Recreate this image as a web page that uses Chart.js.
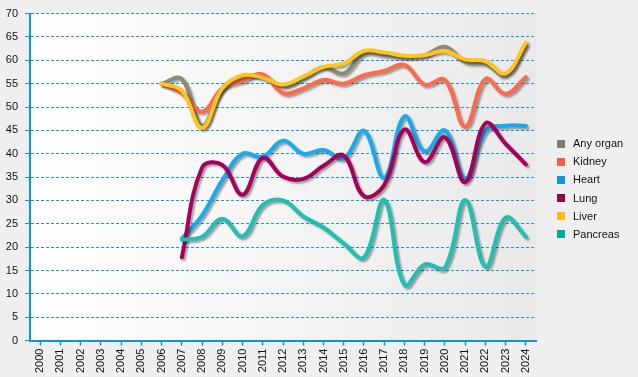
<!DOCTYPE html>
<html>
<head>
<meta charset="utf-8">
<script src="https://cdn.jsdelivr.net/npm/chart.js@4"></script>
<style>
  html, body { margin: 0; padding: 0; background: #efefef; }
  #wrap { width: 638px; height: 377px; position: relative; }
  #legend { position: absolute; left: 557px; top: 134px; margin: 0; padding: 0; list-style: none;
    font: 11px Arial, "Liberation Sans", sans-serif; color: #111; }
  #legend li { height: 18.2px; line-height: 18.2px; white-space: nowrap; position: relative; padding-left: 16px; }
  #legend li span { position: absolute; left: 0; top: 5.5px; width: 8px; height: 8px; }
</style>
</head>
<body>
<div id="wrap">
  <canvas id="chart" width="638" height="377"></canvas>
  <ul id="legend"></ul>
</div>
<script>
// Data (values per year, null = no data)
const years = ['2000','2001','2002','2003','2004','2005','2006','2007','2008','2009','2010','2011',
  '2012','2013','2014','2015','2016','2017','2018','2019','2020','2021','2022','2023','2024'];

const anyOrgan = [null,null,null,null,null,null, 55, 56, 46, 54, 56.5, 56.5,
  54.5, 56.3, 58.5, 57.2, 61.5, 61.2, 60.7, 61.1, 62.9, 59.7, 59.3, 56.8, 63.2];
const kidney = [null,null,null,null,null,null, 55, 53, 49, 54, 55.6, 57,
  53, 54, 55.8, 55, 56.8, 57.7, 59, 54.8, 55.8, 45.8, 56, 52.8, 56.4];
const heart = [null,null,null,null,null,null,null, 21.8, 26.8, 34.3, 40, 39.4,
  42.8, 40, 40.8, 39, 44.9, 34.8, 48, 40.5, 45, 34.7, 44.9, 46, 46];
const lung = [null,null,null,null,null,null,null, 17.8, 37, 37.6, 31.2, 39.1,
  35.1, 34.6, 37.4, 39.6, 30.9, 33.3, 45.2, 38.2, 43.5, 33.9, 46.5, 42.1, 37.7];
const liver = [null,null,null,null,null,null, 55, 53.5, 45.5, 54, 56.8, 56.3,
  54.8, 56.5, 58.6, 59.3, 62, 61.7, 61, 61.1, 62, 60.2, 59.8, 57.2, 63.8];
const pancreas = [null,null,null,null,null,null,null, 21.6, 22.2, 26.1, 22.3, 29,
  30, 26.6, 24.2, 20.8, 17.8, 30.1, 11.9, 16.3, 15.6, 30.1, 15.8, 26.3, 22.2];

const seriesNames = ['Any organ', 'Kidney', 'Heart', 'Lung', 'Liver', 'Pancreas'];
const seriesData = [anyOrgan, kidney, heart, lung, liver, pancreas];

// styles
const lineColors = ['#8a8a78', '#ff6a4c', '#18aaee', '#a6005a', '#ffc41e', '#1fc0b2'];
const boxColors = ['#7c7c6a', '#f25c45', '#0f96dc', '#99004c', '#ffbb1c', '#00a99d'];
const axisBlue = '#0a96d8';
const font = { family: 'Arial, "Liberation Sans", sans-serif', size: 11 };

// light gradient behind the plot
const plotBg = {
  id: 'plotBg',
  beforeDraw(chart) {
    const { ctx, chartArea: a } = chart;
    const g = ctx.createLinearGradient(a.left, 0, a.right, 0);
    g.addColorStop(0, '#ffffff');
    g.addColorStop(1, '#e9e9e9');
    ctx.save();
    ctx.fillStyle = g;
    ctx.fillRect(a.left, a.top, a.right - a.left, a.bottom - a.top);
    ctx.restore();
  }
};

// drop shadow under the lines
const lineShadow = {
  id: 'lineShadow',
  beforeDatasetsDraw(chart) {
    const c = chart.ctx;
    c.save();
    c.shadowColor = 'rgba(0,0,0,0.35)';
    c.shadowBlur = 2;
    c.shadowOffsetX = 2;
    c.shadowOffsetY = 2;
  },
  afterDatasetsDraw(chart) {
    chart.ctx.restore();
  }
};

const datasets = seriesNames.map((name, i) => ({
  label: name,
  data: seriesData[i],
  borderColor: lineColors[i],
  backgroundColor: boxColors[i],
  // later series drawn on top, like the reference
  order: seriesNames.length - i
}));

new Chart(document.getElementById('chart'), {
  type: 'line',
  data: { labels: years, datasets: datasets },
  options: {
    responsive: false,
    animation: false,
    layout: { padding: { top: 10, right: 102, bottom: 1, left: 0 } },
    elements: {
      point: { radius: 0 },
      line: { tension: 0.4, borderWidth: 4, borderCapStyle: 'round', borderJoinStyle: 'round' }
    },
    plugins: {
      tooltip: { enabled: false },
      legend: { display: false }
    },
    scales: {
      x: {
        offset: true,
        grid: { display: true, drawOnChartArea: false, drawTicks: true, tickLength: 5, color: axisBlue, tickWidth: 1.5 },
        border: { color: axisBlue, width: 2 },
        ticks: { minRotation: 90, maxRotation: 90, autoSkip: false, padding: 3, color: '#111', font: font }
      },
      y: {
        min: 0,
        max: 70,
        afterFit(scale) { scale.width = 30; },
        grid: { color: '#1a9ad8', tickLength: 5, tickBorderDash: [], tickColor: axisBlue },
        border: { color: axisBlue, width: 2, dash: [3, 2] },
        ticks: { stepSize: 5, padding: 7, color: '#111', font: font }
      }
    }
  },
  plugins: [plotBg, lineShadow]
});

// legend as plain html list
const legendEl = document.getElementById('legend');
seriesNames.forEach((name, i) => {
  const li = document.createElement('li');
  const sw = document.createElement('span');
  sw.style.background = boxColors[i];
  li.appendChild(sw);
  li.appendChild(document.createTextNode(name));
  legendEl.appendChild(li);
});
</script>
</body>
</html>
